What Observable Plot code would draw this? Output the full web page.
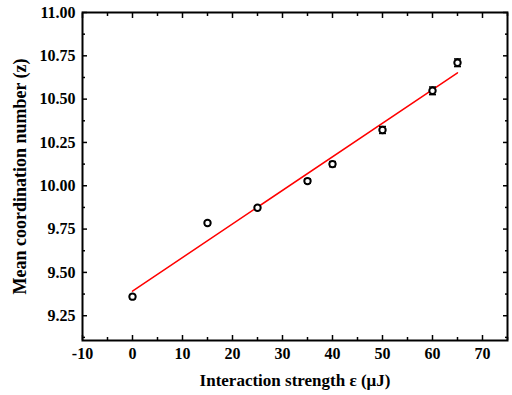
<!DOCTYPE html>
<html>
<head>
<meta charset="utf-8">
<script src="https://cdn.jsdelivr.net/npm/d3@7"></script>
<script src="https://cdn.jsdelivr.net/npm/@observablehq/plot@0.6"></script>
<style>
  body { margin: 0; background: #fff; }
  svg { font-family: "Liberation Serif", "Times New Roman", serif; }
</style>
</head>
<body>
<div id="chart"></div>
<script>
// Data
const strength = [0, 15, 25, 35, 40, 50, 60, 65];           // ε (μJ)
const meanZ    = [9.36, 9.785, 9.873, 10.027, 10.125, 10.322, 10.548, 10.71];
const errZ     = [0.012, 0.01, 0.01, 0.012, 0.015, 0.02, 0.022, 0.022];
const fitX     = [0, 65];
const fitY     = [9.392, 10.652];
const xMajor   = [-10, 0, 10, 20, 30, 40, 50, 60, 70];
const xMinor   = [-5, 5, 15, 25, 35, 45, 55, 65, 75];
const yMajor   = [9.25, 9.5, 9.75, 10, 10.25, 10.5, 10.75, 11];
const yMinor   = [9.125, 9.375, 9.625, 9.875, 10.125, 10.375, 10.625, 10.875];
const xTitle   = "Interaction strength ε (μJ)";
const yTitle   = "Mean coordination number (z)";

const points = strength.map((x, i) => ({x, y: meanZ[i], e: errZ[i]}));
const fit = fitX.map((x, i) => ({x, y: fitY[i]}));

const capSymbol = {draw(ctx) { ctx.moveTo(-3.5, 0); ctx.lineTo(3.5, 0); }};
const font = "'Liberation Serif', 'Times New Roman', serif";

const chart = Plot.plot({
  width: 512,
  height: 395,
  marginLeft: 82,
  marginRight: 5,
  marginTop: 12,
  marginBottom: 55,
  style: {fontFamily: font, fontSize: "16px", fontWeight: "bold", color: "#000"},
  x: {domain: [-10, 75]},
  y: {domain: [9.107, 11]},
  marks: [
    // bottom axis
    Plot.axisX({ticks: xMajor, tickSize: -5, tickPadding: 12, strokeWidth: 1.5, fontSize: 16, fontWeight: "bold", tickFormat: d => d, label: null}),
    Plot.axisX({ticks: xMinor, tickSize: -3, strokeWidth: 1.5, tickFormat: () => "", label: null}),
    // top axis
    Plot.axisX({anchor: "top", ticks: xMajor, tickSize: -5, strokeWidth: 1.5, tickFormat: () => "", label: null}),
    Plot.axisX({anchor: "top", ticks: xMinor, tickSize: -3, strokeWidth: 1.5, tickFormat: () => "", label: null}),
    // left axis
    Plot.axisY({ticks: yMajor, tickSize: -5, tickPadding: 12, strokeWidth: 1.5, fontSize: 16, fontWeight: "bold", tickFormat: d3.format(".2f"), label: null}),
    Plot.axisY({ticks: yMinor, tickSize: -3, strokeWidth: 1.5, tickFormat: () => "", label: null}),
    // right axis
    Plot.axisY({anchor: "right", ticks: yMajor, tickSize: -5, strokeWidth: 1.5, tickFormat: () => "", label: null}),
    Plot.axisY({anchor: "right", ticks: yMinor, tickSize: -3, strokeWidth: 1.5, tickFormat: () => "", label: null}),
    // axis titles
    Plot.text([xTitle], {text: d => d, frameAnchor: "bottom", textAnchor: "middle", lineAnchor: "middle", dy: 40, fontSize: 17, fontWeight: "bold", fill: "#000"}),
    Plot.text([yTitle], {text: d => d, frameAnchor: "left", textAnchor: "middle", lineAnchor: "middle", rotate: -90, dx: -62, fontSize: 18, fontWeight: "bold", fill: "#000"}),
    Plot.frame({stroke: "#000", strokeWidth: 2}),
    Plot.line(fit, {x: "x", y: "y", stroke: "#ff0000", strokeWidth: 1.5}),
    Plot.ruleX(points, {x: "x", y1: d => d.y - d.e, y2: d => d.y + d.e, stroke: "#000", strokeWidth: 1.5}),
    Plot.dot(points, {x: "x", y: d => d.y - d.e, symbol: capSymbol, stroke: "#000", strokeWidth: 1.5, r: 3}),
    Plot.dot(points, {x: "x", y: d => d.y + d.e, symbol: capSymbol, stroke: "#000", strokeWidth: 1.5, r: 3}),
    Plot.dot(points, {x: "x", y: "y", r: 3.2, stroke: "#000", strokeWidth: 2, fill: "#fff"})
  ]
});
document.getElementById("chart").appendChild(chart);
</script>
</body>
</html>
